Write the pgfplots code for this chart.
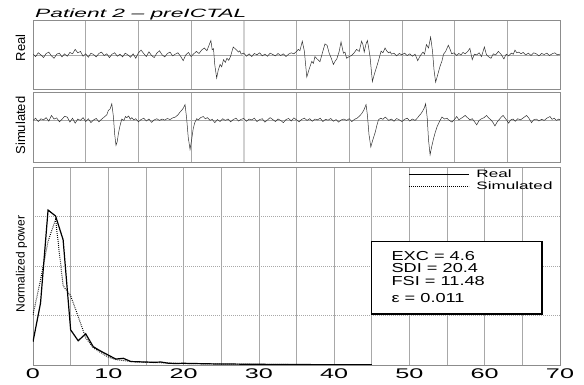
\documentclass[border=0pt]{standalone}
\usepackage{fontspec}
\setmainfont{Liberation Sans}
\usepackage{graphicx}
\usepackage{pgfplots}
\pgfplotsset{compat=1.18}
\definecolor{gridc}{HTML}{A8A8A8}
\definecolor{framec}{HTML}{8C8C8C}
\definecolor{trace}{HTML}{303030}
\begin{document}
\begin{tikzpicture}
\useasboundingbox (0bp,0bp) rectangle (584bp,385bp);
\pgfplotsset{
  panel/.style={scale only axis, width=527bp, xmin=0, xmax=200,
    xtick={20,40,...,180}, xticklabels={}, ytick={0}, yticklabels={},
    grid=major, grid style={gridc, line width=0.6bp},
    extra x ticks={80}, extra x tick labels={},
    extra x tick style={grid style={black!18, line width=1.6bp}},
    axis line style={framec, line width=0.6bp}, tick style={draw=none}, clip=true},
}
% ---------- Real EEG ----------
\begin{axis}[panel, at={(33bp,296bp)}, anchor=south west, height=68.3bp, ymin=-1, ymax=1]
\addplot[trace, line width=0.5bp] coordinates {
(0,0.02)(1,-0.05)(2,0.06)(3,0.00)(4,-0.08)(5,0.04)(6,0.08)(7,-0.03)(8,-0.10)(9,0.02)
(10,0.05)(11,-0.06)(12,0.03)(13,-0.04)(14,0.07)(15,0.03)(16,0.16)(17,0.06)(18,0.10)(19,-0.04)
(20,0.03)(21,-0.07)(22,0.05)(23,0.01)(24,-0.06)(25,0.04)(26,0.08)(27,-0.02)(28,0.03)(29,-0.08)
(30,0.02)(31,0.06)(32,-0.04)(33,0.02)(34,-0.06)(35,0.05)(36,0.00)(37,-0.07)(38,0.03)(39,-0.10)
(40,0.06)(41,0.14)(42,0.04)(43,-0.05)(44,0.09)(45,-0.02)(46,-0.08)(47,0.05)(48,0.12)(49,0.00)
(50,-0.06)(51,0.04)(52,0.08)(53,-0.03)(54,0.02)(55,0.06)(56,-0.04)(57,-0.17)(58,0.00)(59,0.07)
(60,-0.05)(61,0.03)(62,0.10)(63,0.04)(64,0.14)(65,0.20)(66,0.12)(67,0.32)(67.5,0.42)(68,0.15)
(68.5,0.18)(69,-0.30)(69.7,-0.68)(70.3,-0.45)(71,-0.28)(71.6,-0.35)(72.3,-0.14)(73,-0.22)(73.6,-0.10)(74.3,-0.16)
(75,-0.04)(75.5,0.10)(76,0.23)(76.7,0.18)(77.3,0.14)(78,0.08)(78.5,0.12)(79,0.02)(80,0.05)(81,-0.04)
(82,0.03)(83,-0.05)(84,0.04)(85,0.00)(86,0.06)(87,-0.03)(88,0.02)(89,-0.04)(90,0.05)(91,0.01)
(92,-0.03)(93,0.04)(94,-0.02)(95,0.03)(96,-0.05)(97,0.02)(98,0.06)(99,0.03)(100,0.10)(100.7,0.16)
(101.3,0.12)(102.2,0.40)(103,0.10)(103.9,-0.65)(104.8,-0.42)(105.8,-0.19)(106.4,-0.25)(107,-0.05)(107.8,-0.12)(108.9,-0.20)
(109.8,0.05)(110.8,0.32)(111.6,0.28)(112.4,0.05)(113.2,-0.10)(114,-0.28)(114.7,-0.18)(115.3,-0.12)(116.2,0.10)(116.9,0.38)
(117.8,0.05)(118.4,0.08)(119,-0.10)(120,-0.05)(120.9,-0.02)(121.8,0.05)(122.8,0.16)(123.8,0.10)(124.7,0.40)(125.2,0.30)
(125.7,0.08)(126.3,0.30)(126.9,0.42)(127.4,0.20)(127.9,-0.05)(128.8,-0.78)(129.6,-0.55)(130.5,-0.33)(131.3,-0.12)(132.1,0.11)
(132.8,0.06)(133.6,0.20)(134.2,0.12)(134.9,0.06)(135.6,0.09)(136,0.02)(137,0.05)(138,-0.03)(139,0.04)(140,0.00)
(141,0.05)(142,-0.02)(143,0.03)(144,-0.04)(145,0.02)(146,-0.17)(147,-0.02)(148,0.08)(148.6,0.02)(149.3,0.30)
(150.1,0.20)(150.9,0.52)(151.6,0.12)(152.2,-0.45)(152.8,-0.80)(153.6,-0.58)(154.5,-0.33)(155.2,-0.18)(155.8,0.02)(156.6,0.10)
(157.6,0.28)(158.2,0.18)(158.9,0.03)(159.8,0.06)(160.8,-0.02)(161.6,0.04)(162.4,0.00)(163.2,0.07)(164,0.03)(165,0.10)
(165.8,0.19)(166.7,-0.14)(167.5,0.02)(168.4,0.00)(169.3,0.06)(170.2,-0.05)(171.3,0.23)(172.1,0.00)(173,-0.06)(173.8,-0.10)
(174.7,0.03)(175.6,0.00)(176.6,0.10)(177.6,0.02)(178.7,-0.12)(179.6,0.02)(180.5,-0.03)(181.5,0.05)(182.3,0.02)(182.9,0.14)
(183.6,0.06)(184.4,0.08)(185.2,0.03)(186,0.07)(187,0.00)(188,0.05)(189,-0.02)(190,0.06)(191,0.03)(192,-0.03)
(193,0.04)(194,0.01)(195,0.05)(196,-0.02)(197,0.03)(198,0.06)(199,0.00)(200,0.02)
};
\end{axis}
% ---------- Simulated EEG ----------
\begin{axis}[panel, at={(33bp,223bp)}, anchor=south west, height=69.3bp, ymin=-1.5, ymax=1]
\addplot[trace, line width=0.5bp] coordinates {
(0,0.00)(1,0.08)(2,-0.04)(3,0.06)(4,0.02)(5,0.10)(6,-0.03)(7,0.18)(8,0.05)(9,0.09)
(10,-0.05)(11,0.04)(12,0.15)(13,0.12)(14,-0.06)(15,0.08)(16,-0.10)(17,0.05)(18,0.00)(19,0.10)
(20,-0.04)(21,0.06)(22,-0.08)(23,0.02)(24,0.07)(25,-0.05)(26,0.04)(27,0.12)(28,0.20)(28.6,0.36)
(29.3,0.42)(29.9,0.60)(30.5,0.15)(31,-0.50)(31.5,-0.90)(32,-0.75)(32.4,-0.48)(33,-0.20)(33.7,0.05)(34.5,0.00)
(35.1,0.14)(35.6,0.10)(36.3,0.16)(36.9,0.04)(37.5,0.10)(38.2,0.02)(39,0.06)(40,-0.05)(41,0.03)(42,0.08)
(43,-0.02)(44,0.05)(45,-0.07)(46,0.02)(47,0.06)(48,0.00)(49,0.05)(50,0.01)(51,0.07)(52,0.03)
(53,0.09)(54,0.12)(55,0.20)(55.8,0.30)(56.4,0.36)(57.1,0.45)(57.7,0.57)(58.3,0.08)(58.9,-0.60)(59.6,-1.05)
(60.2,-0.70)(60.8,-0.30)(61.4,-0.08)(62.1,0.06)(62.8,0.02)(63.6,0.10)(64.6,0.14)(65.4,0.06)(66.2,0.10)(67.2,0.00)
(68,0.04)(69,-0.08)(70,0.03)(71,-0.04)(72,0.06)(73,0.00)(74,0.05)(75,-0.05)(76,0.03)(77,0.08)
(78,-0.02)(79,0.04)(80,0.07)(81,-0.03)(82,0.05)(83,0.02)(84,0.08)(85,-0.04)(86,0.03)(87,0.06)
(88,-0.06)(89,0.02)(90,0.10)(91,0.03)(92,-0.04)(93,0.05)(94,0.00)(95,-0.08)(96,0.03)(97,0.07)
(98,-0.02)(99,0.09)(100,0.02)(101,-0.05)(102,0.04)(103,0.08)(104,0.00)(105,0.06)(106,-0.03)(107,0.05)
(108,0.02)(109,0.08)(110,-0.04)(111,0.04)(112,0.01)(113,0.07)(114,-0.03)(115,0.03)(116,-0.06)(117,0.02)
(118,0.05)(119,0.00)(120,0.06)(121,-0.04)(122,0.04)(123,0.08)(123.8,0.15)(124.7,0.24)(125.6,0.38)(126.4,0.57)
(126.9,0.20)(127.5,-0.50)(128.2,-0.96)(128.9,-0.72)(129.9,-0.42)(130.5,-0.18)(131.1,0.02)(131.9,0.08)(132.8,0.04)(133.7,0.12)
(134.4,0.06)(135,0.00)(136,0.05)(137,-0.03)(138,0.07)(139,0.02)(140,-0.04)(141,0.04)(142,0.08)(143,-0.02)
(144,0.05)(145,0.00)(146,0.10)(146.6,0.18)(147.3,0.25)(148,0.36)(148.5,0.45)(149,0.60)(149.6,0.10)(150.1,-0.70)
(150.7,-1.24)(151.3,-0.95)(152,-0.66)(152.6,-0.45)(153.3,-0.24)(154.2,-0.05)(155.2,0.12)(156.2,0.05)(157.1,0.08)(158,0.00)
(159,-0.06)(160,0.04)(160.8,0.14)(161.6,0.02)(162.4,0.07)(163.2,0.12)(164,0.18)(164.9,0.10)(165.8,0.02)(166.7,0.06)
(167.5,-0.04)(168.4,-0.16)(169.3,0.00)(170.2,0.06)(171.2,0.10)(172.1,0.18)(173,0.08)(173.8,0.02)(174.6,-0.08)(175.3,-0.20)
(176.2,-0.05)(177,0.04)(177.7,0.12)(178.4,0.18)(179.2,0.08)(180,-0.02)(180.5,-0.10)(181.3,0.02)(182.2,0.05)(183,-0.03)
(184,0.06)(185,0.02)(186.2,0.10)(187.3,0.18)(188.2,0.08)(189.2,-0.08)(190,0.02)(191,0.05)(192,-0.02)(193,0.04)
(194,0.00)(195,0.08)(196.2,0.14)(197,0.04)(197.8,0.08)(198.7,0.00)(199.5,0.05)(200,0.02)
};
\end{axis}
% ---------- Spectrum ----------
\begin{axis}[scale only axis, at={(33bp,20bp)}, anchor=south west, width=527bp, height=198bp,
  xmin=0, xmax=70, ymin=0, ymax=4,
  xtick={0,10,...,70},
  xticklabels={\scalebox{1.8}[1]{0},\scalebox{1.8}[1]{10},\scalebox{1.8}[1]{20},\scalebox{1.8}[1]{30},\scalebox{1.8}[1]{40},\scalebox{1.8}[1]{50},\scalebox{1.8}[1]{60},\scalebox{1.8}[1]{70}},
  xticklabel style={font=\fontsize{14bp}{14bp}\selectfont, anchor=center, yshift=-8.5bp},
  minor xtick={5,15,...,65},
  ytick={1,2,3}, yticklabels={},
  xmajorgrids, xminorgrids, ymajorgrids,
  major x grid style={gridc, line width=0.6bp},
  minor x grid style={gridc, line width=0.6bp},
  major y grid style={gridc, line width=0.6bp, dash pattern=on 1bp off 1bp},
  axis line style={framec, line width=0.6bp}, tick style={draw=none}, minor tick style={draw=none},
  legend style={at={(rel axis cs:0.99,0.995)}, anchor=north east, draw=none, fill=none,
    font=\fontsize{10.7bp}{10.7bp}\selectfont, row sep=-1.5bp, inner sep=0pt, cells={anchor=west}},
  legend image code/.code={\draw[#1] (0bp,0bp) -- (60bp,0bp);},
  clip=true]
\addplot[black, line width=1.2bp] coordinates {
(0,0.47)(1,1.25)(2,3.13)(3,3.01)(4,2.53)(5,0.71)(6,0.49)(7,0.63)(8,0.37)(9,0.28)
(10,0.20)(11,0.12)(12,0.135)(13,0.07)(14,0.065)(15,0.06)(16,0.055)(17,0.06)(18,0.035)(19,0.03)
(20,0.035)(21,0.03)(22,0.028)(23,0.025)(24,0.022)(25,0.022)(26,0.02)(27,0.018)(28,0.016)(29,0.015)
(30,0.014)(31,0.013)(32,0.012)(33,0.012)(34,0.011)(35,0.010)(36,0.009)(37,0.008)(38,0.008)(39,0.007)
(40,0.006)(41,0.006)(42,0.005)(43,0.005)(44,0.004)(45,0.003)
};
\addlegendentry{\hspace{5bp}\scalebox{1.6}[1]{Real}}
\addplot[black, line width=1.0bp, dash pattern=on 0.8bp off 1.2bp] coordinates {
(0,1.01)(1,1.72)(2,2.50)(3,2.94)(4,1.60)(5,1.40)(6,0.98)(7,0.55)(8,0.35)(9,0.25)
(10,0.16)(11,0.11)(12,0.09)(13,0.07)(14,0.06)(15,0.055)(16,0.05)(17,0.045)(18,0.04)(19,0.035)
(20,0.03)(21,0.028)(22,0.026)(23,0.024)(24,0.022)(25,0.02)(26,0.018)(27,0.017)(28,0.016)(29,0.015)
(30,0.014)(31,0.013)(32,0.012)(33,0.011)(34,0.010)(35,0.009)(36,0.009)(37,0.008)(38,0.007)(39,0.007)
(40,0.006)(41,0.005)(42,0.005)(43,0.004)(44,0.004)(45,0.003)
};
\addlegendentry{\hspace{5bp}\scalebox{1.6}[1]{Simulated}}
\draw[black, line width=1.3bp, fill=white] (axis cs:45,1.03) rectangle (axis cs:67.6,2.49);
\begin{scope}[every node/.style={anchor=base west, inner sep=0pt, font=\fontsize{13bp}{13bp}\selectfont}]
\node at (axis cs:47.6,2.121) {\scalebox{1.4}[1]{EXC = 4.6}};
\node at (axis cs:47.6,1.865) {\scalebox{1.4}[1]{SDI = 20.4}};
\node at (axis cs:47.6,1.616) {\scalebox{1.4}[1]{FSI = 11.48}};
\node at (axis cs:47.6,1.259) {\scalebox{1.4}[1]{ε = 0.011}};
\end{scope}
\end{axis}
% ---------- Labels ----------
\node[anchor=base west, inner sep=0pt, font=\fontsize{12bp}{12bp}\selectfont\itshape] at (35bp,367.7bp) {\scalebox{1.9}[1]{Patient 2 – preICTAL}};
\node[rotate=90, inner sep=0pt, font=\fontsize{13bp}{13bp}\selectfont] at (20.5bp,337bp) {Real};
\node[rotate=90, inner sep=0pt, font=\fontsize{13bp}{13bp}\selectfont] at (20.5bp,259.5bp) {Simulated};
\node[rotate=90, inner sep=0pt, font=\fontsize{12bp}{12bp}\selectfont] at (21.5bp,121bp) {Normalized power};
\end{tikzpicture}
\end{document}
